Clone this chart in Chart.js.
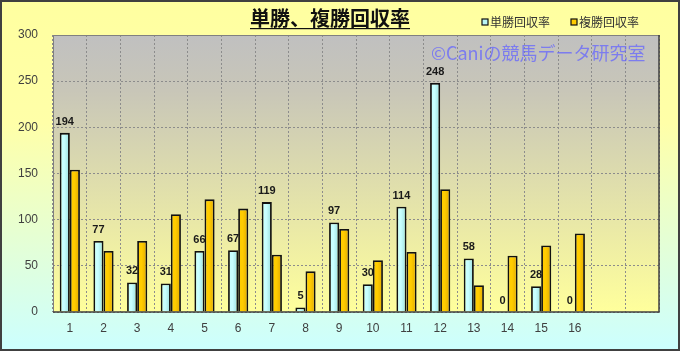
<!DOCTYPE html>
<html>
<head>
<meta charset="utf-8">
<script src="https://cdn.jsdelivr.net/npm/chart.js@4"></script>
<style>
html,body{margin:0;padding:0;background:#fff;}
#wrap{width:680px;height:351px;position:relative;}
</style>
</head>
<body>
<div id="wrap"><canvas id="c" width="680" height="351"></canvas></div>
<script>
// ---- data ----
const categories = ['1','2','3','4','5','6','7','8','9','10','11','12','13','14','15','16','',''];
const winReturn = [194,77,32,31,66,67,119,5,97,30,114,248,58,0,28,0,null,null];
const placeReturn = [154,66,77,106,122,112,62,44,90,56,65,133,29,61,72,85,null,null];
const seriesNames = ['単勝回収率','複勝回収率'];
const titleText = '単勝、複勝回収率';
const watermarkText = '©Caniの競馬データ研究室';
const yTicks = {min:0, max:300, step:50};

const CAT_PCT = 0.6;

function barGradient(ctx, dsIndex, light, dark) {
  const chart = ctx.chart;
  const xs = chart.scales && chart.scales.x;
  if (!xs || !chart.chartArea || ctx.dataIndex === undefined) return light;
  const catW = (xs.right - xs.left) / categories.length;
  const bw = catW * CAT_PCT / 2;
  const c = xs.getPixelForValue(ctx.dataIndex);
  if (!isFinite(c)) return light;
  const x0 = c - bw + dsIndex * bw;
  const g = chart.ctx.createLinearGradient(x0, 0, x0 + bw, 0);
  g.addColorStop(0, light);
  g.addColorStop(0.45, light);
  g.addColorStop(1, dark);
  return g;
}

const bgPlugin = {
  id: 'bg',
  beforeDraw(chart) {
    const {ctx, width, height, chartArea: a} = chart;
    ctx.save();
    let g = ctx.createLinearGradient(0, 0, 0, height);
    g.addColorStop(0, '#ffffa0');
    g.addColorStop(0.35, '#ffffa8');
    g.addColorStop(1, '#ccffff');
    ctx.fillStyle = g;
    ctx.fillRect(0, 0, width, height);
    g = ctx.createLinearGradient(0, a.top, 0, a.bottom);
    g.addColorStop(0, '#c0c0c0');
    g.addColorStop(0.2, '#c8c6b8');
    g.addColorStop(1, '#ffff9c');
    ctx.fillStyle = g;
    ctx.fillRect(a.left, a.top, a.right - a.left, a.bottom - a.top);
    ctx.restore();
  },
  beforeDatasetsDraw(chart) {
    const {ctx} = chart;
    ctx.save();
    ctx.font = '18px "Noto Sans CJK JP", sans-serif';
    ctx.fillStyle = 'rgba(100,100,255,0.75)';
    ctx.textBaseline = 'alphabetic';
    ctx.textAlign = 'left';
    ctx.fillText(watermarkText, 431, 60);
    ctx.restore();
  },
  afterDatasetsDraw(chart) {
    const {ctx} = chart;
    const meta = chart.getDatasetMeta(0);
    ctx.save();
    ctx.font = 'bold 11px "Liberation Sans", Arial, sans-serif';
    ctx.fillStyle = '#1a1a1a';
    ctx.textAlign = 'center';
    ctx.textBaseline = 'alphabetic';
    meta.data.forEach((el, i) => {
      const v = winReturn[i];
      if (v === null || v === undefined) return;
      ctx.fillText(String(v), el.x, el.y - 8);
    });
    ctx.restore();
  },
  afterDraw(chart) {
    const {ctx, width, height, chartArea: a} = chart;
    ctx.save();
    // plot border
    ctx.strokeStyle = '#808080';
    ctx.lineWidth = 1;
    ctx.beginPath();
    ctx.moveTo(a.left + 0.5, a.bottom);
    ctx.lineTo(a.left + 0.5, a.top + 0.5);
    ctx.lineTo(a.right, a.top + 0.5);
    ctx.stroke();
    ctx.strokeStyle = '#404040';
    ctx.lineWidth = 1.5;
    ctx.beginPath();
    ctx.moveTo(a.left, a.bottom);
    ctx.lineTo(a.right, a.bottom);
    ctx.lineTo(a.right, a.top);
    ctx.stroke();
    // title
    ctx.font = 'bold 20px "Noto Sans CJK JP", sans-serif';
    ctx.fillStyle = '#111';
    ctx.textAlign = 'center';
    ctx.textBaseline = 'alphabetic';
    ctx.fillText(titleText, 330, 26);
    const tw = ctx.measureText(titleText).width;
    ctx.fillRect(330 - tw / 2, 28, tw, 1.2);
    // legend
    ctx.font = '12px "Noto Sans CJK JP", sans-serif';
    ctx.textAlign = 'left';
    ctx.textBaseline = 'middle';
    const items = [
      {x: 482, fill: '#b8f4f4', name: seriesNames[0]},
      {x: 571, fill: '#ffcc00', name: seriesNames[1]}
    ];
    items.forEach(it => {
      ctx.fillStyle = it.fill;
      ctx.fillRect(it.x, 19, 6, 6);
      ctx.strokeStyle = '#111';
      ctx.lineWidth = 1.2;
      ctx.strokeRect(it.x, 19, 6, 6);
      ctx.fillStyle = '#333';
      ctx.fillText(it.name, it.x + 8, 22.5);
    });
    // outer border
    ctx.strokeStyle = '#404040';
    ctx.lineWidth = 2;
    ctx.strokeRect(1, 1, width - 2, height - 2);
    ctx.restore();
  }
};

new Chart(document.getElementById('c'), {
  type: 'bar',
  data: {
    labels: categories,
    datasets: [
      {
        label: seriesNames[0],
        data: winReturn,
        backgroundColor: (ctx) => barGradient(ctx, 0, '#c8ffff', '#98dcdc'),
        borderColor: '#111',
        borderWidth: 1.8,
        borderSkipped: 'start',
        categoryPercentage: CAT_PCT,
        barPercentage: 1.0
      },
      {
        label: seriesNames[1],
        data: placeReturn,
        backgroundColor: (ctx) => barGradient(ctx, 1, '#ffcc00', '#e0a800'),
        borderColor: '#111',
        borderWidth: 1.8,
        borderSkipped: 'start',
        categoryPercentage: CAT_PCT,
        barPercentage: 1.0
      }
    ]
  },
  options: {
    responsive: false,
    animation: false,
    devicePixelRatio: 1,
    layout: {padding: {left: 0, top: 35, right: 21, bottom: 0}},
    plugins: {legend: {display: false}, title: {display: false}, tooltip: {enabled: false}},
    scales: {
      x: {
        offset: true,
        grid: {display: true, offset: true, color: '#8c8c8c', lineWidth: 1, drawTicks: false},
        border: {display: false, dash: [2, 2]},
        ticks: {color: '#404040', font: {family: '"Liberation Sans", Arial, sans-serif', size: 12}, padding: 9, maxRotation: 0, autoSkip: false},
        afterFit(s) { s.height = 39; }
      },
      y: {
        min: yTicks.min, max: yTicks.max,
        grid: {color: '#8c8c8c', lineWidth: 1, drawTicks: false},
        border: {display: false, dash: [2, 2]},
        ticks: {stepSize: yTicks.step, color: '#404040', font: {family: '"Liberation Sans", Arial, sans-serif', size: 12}, padding: 15},
        afterFit(s) { s.width = 53; }
      }
    }
  },
  plugins: [bgPlugin]
});
</script>
</body>
</html>
